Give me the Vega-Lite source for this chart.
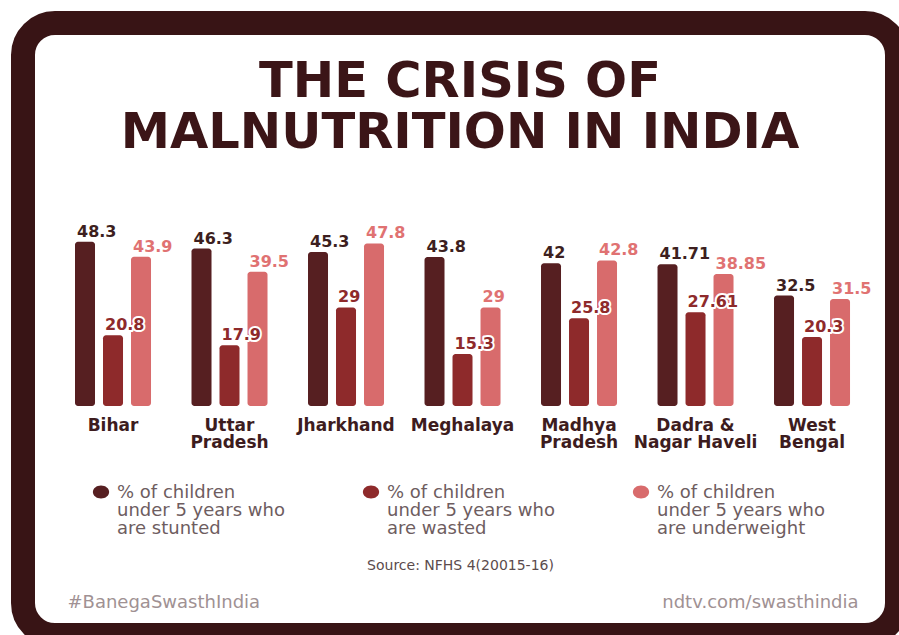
{
  "$schema": "https://vega.github.io/schema/vega-lite/v6.json",
  "width": 874,
  "height": 612,
  "autosize": "none",
  "padding": {"left": 23, "top": 23, "right": 2, "bottom": 0},
  "background": "white",
  "title": {
    "text": ["THE CRISIS OF", "MALNUTRITION IN INDIA"],
    "font": "DejaVu Sans",
    "fontSize": 49.5,
    "fontWeight": "bold",
    "color": "#3b1517",
    "lineHeight": 51,
    "anchor": "middle",
    "frame": "group",
    "baseline": "bottom",
    "offset": -184
  },
  "data": {
    "values": [
      {"state": "Bihar", "series": "stunted", "value": 48.3},
      {"state": "Bihar", "series": "wasted", "value": 20.8},
      {"state": "Bihar", "series": "underweight", "value": 43.9},
      {"state": "Uttar Pradesh", "series": "stunted", "value": 46.3},
      {"state": "Uttar Pradesh", "series": "wasted", "value": 17.9},
      {"state": "Uttar Pradesh", "series": "underweight", "value": 39.5},
      {"state": "Jharkhand", "series": "stunted", "value": 45.3},
      {"state": "Jharkhand", "series": "wasted", "value": 29},
      {"state": "Jharkhand", "series": "underweight", "value": 47.8},
      {"state": "Meghalaya", "series": "stunted", "value": 43.8},
      {"state": "Meghalaya", "series": "wasted", "value": 15.3},
      {"state": "Meghalaya", "series": "underweight", "value": 29},
      {"state": "Madhya Pradesh", "series": "stunted", "value": 42},
      {"state": "Madhya Pradesh", "series": "wasted", "value": 25.8},
      {"state": "Madhya Pradesh", "series": "underweight", "value": 42.8},
      {"state": "Dadra & Nagar Haveli", "series": "stunted", "value": 41.71},
      {"state": "Dadra & Nagar Haveli", "series": "wasted", "value": 27.61},
      {"state": "Dadra & Nagar Haveli", "series": "underweight", "value": 38.85},
      {"state": "West Bengal", "series": "stunted", "value": 32.5},
      {"state": "West Bengal", "series": "wasted", "value": 20.3},
      {"state": "West Bengal", "series": "underweight", "value": 31.5}
    ]
  },
  "layer": [
    {
      "encoding": {
        "x": {
          "field": "state",
          "type": "nominal",
          "sort": ["Bihar", "Uttar Pradesh", "Jharkhand", "Meghalaya", "Madhya Pradesh", "Dadra & Nagar Haveli", "West Bengal"],
          "scale": {"paddingInner": 0, "paddingOuter": 0.251, "align": 0.543},
          "axis": {
            "orient": "bottom",
            "offset": -229,
            "title": "Source: NFHS 4(20015-16)",
            "titleFont": "DejaVu Sans",
            "titleFontSize": 14,
            "titleFontWeight": "normal",
            "titleColor": "#5b4b4d",
            "titleY": 159,
            "titleBaseline": "middle",
            "labelFont": "DejaVu Sans",
            "labelFontSize": 17,
            "labelFontWeight": "bold",
            "labelColor": "#3d1c1e",
            "labelAngle": 0,
            "labelAlign": "center",
            "labelBaseline": "top",
            "labelPadding": 11,
            "labelLineHeight": 17,
            "labelOverlap": false,
            "labelLimit": 300,
            "labelExpr": "datum.label == 'Dadra & Nagar Haveli' ? ['Dadra &', 'Nagar Haveli'] : split(datum.label, ' ')",
            "domain": false,
            "ticks": false,
            "tickSize": 0,
            "grid": false
          }
        },
        "xOffset": {
          "field": "series",
          "type": "nominal",
          "sort": ["stunted", "wasted", "underweight"],
          "scale": {"domain": ["stunted", "wasted", "underweight"], "paddingInner": 0.2857, "paddingOuter": 0.723}
        },
        "y": {
          "field": "value",
          "type": "quantitative",
          "scale": {"domain": [-67.35, 112.65], "nice": false, "zero": false},
          "axis": {
            "title": "#BanegaSwasthIndia",
            "titleAngle": 0,
            "titleX": 44,
            "titleY": 584.5,
            "titleAlign": "left",
            "titleBaseline": "alphabetic",
            "titleFont": "DejaVu Sans",
            "titleFontSize": 18,
            "titleFontWeight": "normal",
            "titleColor": "#a09193",
            "labels": false,
            "ticks": false,
            "domain": false,
            "grid": false
          }
        }
      },
      "layer": [
        {
          "mark": {"type": "bar", "cornerRadiusEnd": 3},
          "encoding": {
            "y2": {"datum": 0},
            "color": {
              "field": "series",
              "type": "nominal",
              "scale": {"domain": ["stunted", "wasted", "underweight"], "range": ["#561f21", "#8e2a2b", "#d86b6c"]},
              "legend": {
                "orient": "none",
                "legendX": 69,
                "legendY": 466,
                "direction": "horizontal",
                "columns": 3,
                "columnPadding": 76,
                "padding": 0,
                "title": null,
                "symbolType": "M-1.25,-0.92A1.25,1,0,1,0,1.25,-0.92A1.25,1,0,1,0,-1.25,-0.92Z",
                "symbolSize": 169,
                "symbolStrokeWidth": 0,
                "labelFont": "DejaVu Sans",
                "labelFontSize": 18,
                "labelColor": "#6e5d5f",
                "labelBaseline": "alphabetic",
                "labelOffset": 7,
                "labelLimit": 400,
                "labelExpr": "['% of children', 'under 5 years who', 'are ' + datum.label]"
              }
            }
          }
        },
        {
          "mark": {"type": "text", "align": "left", "baseline": "alphabetic", "dx": -8, "dy": -5, "font": "DejaVu Sans", "fontSize": 16, "fontWeight": "bold", "fill": "white", "stroke": "white", "strokeWidth": 4, "strokeJoin": "round"},
          "encoding": {
            "text": {"field": "value", "type": "nominal"}
          }
        },
        {
          "mark": {"type": "text", "align": "left", "baseline": "alphabetic", "dx": -8, "dy": -5, "font": "DejaVu Sans", "fontSize": 16, "fontWeight": "bold"},
          "encoding": {
            "text": {"field": "value", "type": "nominal"},
            "fill": {
              "field": "series",
              "type": "nominal",
              "scale": {"domain": ["stunted", "wasted", "underweight"], "range": ["#3d1f20", "#8e2a2b", "#e07272"]},
              "legend": null
            }
          }
        }
      ]
    },
    {
      "mark": {"type": "point", "opacity": 0},
      "encoding": {
        "y": {
          "field": "value",
          "type": "quantitative",
          "axis": {
            "orient": "right",
            "title": "ndtv.com/swasthindia",
            "titleAngle": 0,
            "titleX": -39,
            "titleY": 584.5,
            "titleAlign": "right",
            "titleBaseline": "alphabetic",
            "titleFont": "DejaVu Sans",
            "titleFontSize": 18,
            "titleFontWeight": "normal",
            "titleColor": "#a09193",
            "labels": false,
            "ticks": false,
            "domain": false,
            "grid": false
          }
        }
      }
    }
  ],
  "resolve": {"scale": {"y": "independent"}},
  "config": {
    "view": {"fill": "white", "stroke": "#381415", "strokeWidth": 24, "cornerRadius": 32},
    "style": {"guide-label": {"lineHeight": 18}}
  }
}
